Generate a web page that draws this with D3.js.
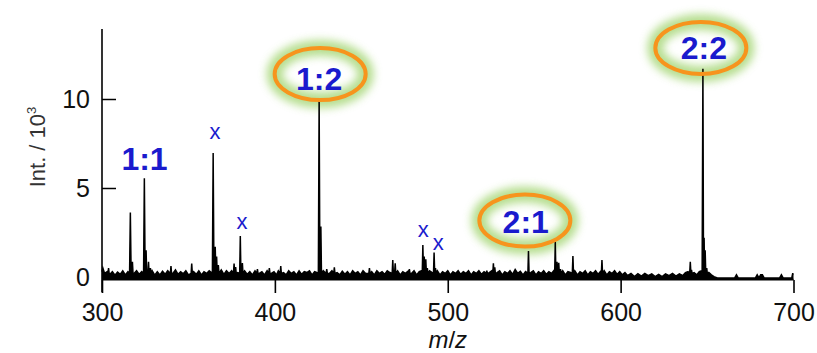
<!DOCTYPE html>
<html><head><meta charset="utf-8">
<script src="https://cdn.jsdelivr.net/npm/d3@7"></script>
<style>
html,body{margin:0;padding:0;background:#fff;}
svg{display:block;font-family:"Liberation Sans",Arial,sans-serif;}
</style></head>
<body>
<svg id="chart" width="817" height="353"></svg>
<script>
// ---- data ----
const xTicks = [300, 400, 500, 600, 700];
const yTicks = [0, 5, 10];
// main peaks [m/z, intensity / 10^3]
const peaks = [
  [316.4, 3.63], [317.6, 0.86],
  [324.5, 5.55], [325.5, 1.5], [326.9, 0.86], [328.0, 0.5],
  [303.8, 0.5], [339.9, 0.62], [351.9, 0.75],
  [364.3, 6.97], [365.5, 1.7], [366.3, 1.15], [367.3, 0.67],
  [376.4, 0.75], [377.3, 0.56],
  [380.0, 2.3], [381.2, 0.78],
  [389.9, 0.45], [396.8, 0.5], [403.4, 0.62],
  [425.6, 10.0], [426.6, 2.83],
  [430.0, 0.45], [434.4, 0.55], [454.7, 0.5],
  [468.2, 0.95], [469.6, 0.77], [477.8, 0.45],
  [485.6, 1.8], [486.4, 1.15], [487.3, 1.0], [488.2, 0.5],
  [492.1, 1.37], [492.9, 0.5],
  [522.6, 0.35], [526.4, 0.77], [527.2, 0.55],
  [546.7, 1.46],
  [562.2, 1.98], [563.2, 0.86], [564.2, 0.8], [565.2, 0.45],
  [572.4, 1.18], [589.2, 0.95],
  [640.3, 0.86], [641.0, 0.4],
  [647.6, 11.7], [648.3, 2.2], [648.9, 1.5], [649.8, 0.5]
];
// baseline noise [m/z, intensity / 10^3]
const noise = [
  [300,0.3],[300.5,0.5],[301.5,0.2],[303,0.3],[304.6,0.15],[306,0.3],[307.5,0.1],[309,0.28],[310.5,0.15],
  [312,0.35],[313.5,0.12],[315,0.3],[318.5,0.2],[320,0.35],[321.5,0.15],[323,0.3],[329,0.35],[330.5,0.1],
  [332,0.3],[333.5,0.12],[335,0.32],[336.5,0.15],[338,0.35],[341,0.2],[342.5,0.4],[344,0.15],[345.5,0.3],
  [347,0.18],[348.5,0.35],[350,0.12],[353,0.3],[354.5,0.15],[356,0.35],[357.5,0.12],[359,0.3],[360.5,0.2],
  [362,0.35],[369,0.4],[370.5,0.15],[372,0.35],[373.5,0.2],[375,0.35],[378.5,0.25],[382.5,0.35],[384,0.15],
  [385.5,0.3],[387,0.12],[388.5,0.35],[391,0.2],[392.5,0.3],[394,0.12],[395.5,0.35],[398,0.2],[399.5,0.3],
  [401,0.12],[402,0.35],[405,0.25],[406.5,0.12],[408,0.35],[409.5,0.2],[411,0.3],[412.5,0.12],[414,0.35],
  [415.5,0.15],[417,0.3],[418.5,0.25],[420,0.35],[421.5,0.12],[423,0.3],[424.5,0.25],[428,0.35],[431.5,0.2],
  [433,0.35],[436,0.25],[437.5,0.12],[439,0.32],[440.5,0.15],[442,0.3],[443.5,0.12],[445,0.35],[446.5,0.2],
  [448,0.3],[449.5,0.12],[451,0.35],[452.5,0.2],[456,0.3],[457.5,0.12],[459,0.35],[460.5,0.2],[462,0.3],
  [463.5,0.15],[465,0.35],[466.5,0.25],[471,0.35],[472.5,0.12],[474,0.3],[475.5,0.2],[477,0.32],[479,0.2],
  [480.5,0.35],[482,0.12],[483.5,0.3],[484.8,0.35],[489.5,0.35],[491,0.25],[494,0.35],[495.5,0.12],[497,0.3],
  [498.5,0.2],[500,0.35],[501.5,0.12],[503,0.3],[504.5,0.2],[506,0.35],[507.5,0.15],[509,0.3],[510.5,0.2],
  [512,0.35],[513.5,0.12],[515,0.3],[516.5,0.2],[518,0.35],[519.5,0.15],[521,0.3],[524,0.25],[525.5,0.35],
  [528.5,0.25],[530,0.35],[531.5,0.12],[533,0.3],[534.5,0.2],[536,0.35],[537.5,0.15],[539,0.42],[540.5,0.2],
  [542,0.32],[543.5,0.12],[545,0.3],[548,0.25],[549.5,0.35],[551,0.12],[552.5,0.3],[554,0.2],[555.5,0.35],
  [557,0.15],[558.5,0.3],[560,0.2],[561.3,0.35],[566.5,0.35],[568,0.12],[569.5,0.3],[571,0.25],[573.5,0.35],
  [575,0.12],[576.5,0.3],[578,0.2],[579.5,0.35],[581,0.12],[582.5,0.3],[584,0.2],[585.5,0.35],[587,0.15],
  [588.3,0.3],[590.5,0.35],[592,0.12],[593.5,0.3],[595,0.2],[596.5,0.35],[598,0.15],[599.5,0.3],[601,0.12],
  [602.5,0.25],[604,0.08],[606,0.2],[608,0.02],[610,0.18],[612,0.05],[614,0.2],[616,0.08],[618,0.18],
  [620,0.02],[622,0.15],[624,0.02],[626,0.18],[628,0.08],[630,0.2],[632,0.05],[634,0.18],[636,0.08],
  [637.5,0.25],[639,0.3],[642.5,0.25],[644,0.12],[645.5,0.3],[646.8,0.35],[651,0.25],[652.5,0.12],[654,0.02],
  [656,-0.05],[666,-0.05],[667,0.12],[668,-0.05],[678,-0.05],[679,0.12],[680,-0.05],[681,0.12],[682,0.12],
  [683,-0.05],[692,-0.05],[693,0.12],[694,-0.05],[699,-0.05],[699.5,0.18],[700,0.18]
];
// complex annotations (text anchor and ring centre, in data units)
const complexLabels = ["1:2", "2:1", "2:2"];
const complexTextMz = [425.6, 545.1, 648.2];
const complexTextInt = [10.5, 2.47, 12.25];
const complexRingMz = [426.2, 544.6, 646.4];
const complexRingInt = [11.4, 3.17, 12.87];
const plainLabel = "1:1", plainLabelMz = 324.6, plainLabelInt = 6.0;
const crossMz = [365.4, 381.0, 485.8, 494.5];
const crossInt = [8.09, 3.03, 2.58, 1.85];

// ---- drawing ----
const svg = d3.select("#chart");
const x = d3.scaleLinear().domain([300, 700]).range([102, 793.5]);
const y = d3.scaleLinear().domain([0, 10]).range([277, 99]);
const floorVal = -0.17;
const blue = "#1a1acd", orange = "#f7941d";

// glow filter
const defs = svg.append("defs");
const f = defs.append("filter").attr("id", "glow").attr("x", "-30%").attr("y", "-60%").attr("width", "160%").attr("height", "220%");
f.append("feGaussianBlur").attr("stdDeviation", 4.5);

// glows
complexLabels.forEach((t, i) => {
  svg.append("ellipse")
    .attr("cx", x(complexRingMz[i])).attr("cy", y(complexRingInt[i]))
    .attr("rx", 45.5).attr("ry", 26)
    .attr("fill", "none").attr("stroke", "#9ed36a").attr("stroke-width", 16)
    .attr("opacity", 0.75).attr("filter", "url(#glow)");
});

// spectrum
const pts = noise.slice();
peaks.forEach(([m, v]) => {
  const hw = v > 3 ? 0.45 : 0.35;
  pts.push([m - hw, 0.2], [m, v], [m + hw, 0.2]);
});
pts.sort((a, b) => a[0] - b[0]);
const area = d3.area().x(d => x(d[0])).y0(y(floorVal)).y1(d => y(d[1]));
const line = d3.line().x(d => x(d[0])).y(d => y(d[1]));
svg.append("path").attr("d", area(pts)).attr("fill", "#000");
svg.append("path").attr("d", line(pts)).attr("fill", "none").attr("stroke", "#000").attr("stroke-width", 1.5);
svg.append("line").attr("x1", x(300)).attr("x2", x(700)).attr("y1", y(floorVal) - 0.5).attr("y2", y(floorVal) - 0.5)
  .attr("stroke", "#000").attr("stroke-width", 1.8);

// y axis
const yAxis = svg.append("g").attr("transform", `translate(${x(300)},0)`)
  .call(d3.axisLeft(y).tickValues(yTicks).tickSizeInner(-14).tickSizeOuter(0).tickPadding(12));
yAxis.select(".domain").remove();
yAxis.selectAll(".tick line").attr("stroke-width", 1.5);
yAxis.selectAll("text").attr("font-size", 25).attr("fill", "#111").style("font-family", "Liberation Sans, Arial, sans-serif");
svg.append("line").attr("x1", x(300)).attr("x2", x(300)).attr("y1", y(-0.85)).attr("y2", y(13.93))
  .attr("stroke", "#000").attr("stroke-width", 1.6);

// x axis
const xAxis = svg.append("g").attr("transform", `translate(0,${y(floorVal)})`)
  .call(d3.axisBottom(x).tickValues(xTicks).tickSizeInner(13).tickSizeOuter(0).tickPadding(10));
xAxis.select(".domain").remove();
xAxis.selectAll(".tick line").attr("stroke-width", 1.6);
xAxis.selectAll("text").attr("font-size", 25).attr("fill", "#111").style("font-family", "Liberation Sans, Arial, sans-serif");

// axis titles
svg.append("text").attr("x", x(500)).attr("y", 348).attr("text-anchor", "middle")
  .attr("font-size", 24).attr("font-style", "italic").attr("fill", "#111")
  .html('m<tspan font-style="normal">/</tspan>z');
const yt = svg.append("text").attr("transform", "translate(45,147) rotate(-90)")
  .attr("text-anchor", "middle").attr("font-size", 22).attr("fill", "#333");
yt.append("tspan").text("Int. / 10");
yt.append("tspan").attr("font-size", 13).attr("dy", -9).text("3");

// rings
complexLabels.forEach((t, i) => {
  svg.append("ellipse")
    .attr("cx", x(complexRingMz[i])).attr("cy", y(complexRingInt[i]))
    .attr("rx", 45.5).attr("ry", 26)
    .attr("fill", "none").attr("stroke", orange).attr("stroke-width", 4);
  svg.append("text").attr("x", x(complexTextMz[i])).attr("y", y(complexTextInt[i]))
    .attr("text-anchor", "middle").attr("font-size", 32).attr("font-weight", "bold").attr("fill", blue).text(t);
});
svg.append("text").attr("x", x(plainLabelMz)).attr("y", y(plainLabelInt))
  .attr("text-anchor", "middle").attr("font-size", 32).attr("font-weight", "bold").attr("fill", blue).text(plainLabel);

// impurity markers
crossMz.forEach((m, i) => {
  svg.append("text").attr("x", x(m)).attr("y", y(crossInt[i]) + 6)
    .attr("text-anchor", "middle").attr("font-size", 22).attr("fill", blue).text("x");
});
</script>
</body></html>
